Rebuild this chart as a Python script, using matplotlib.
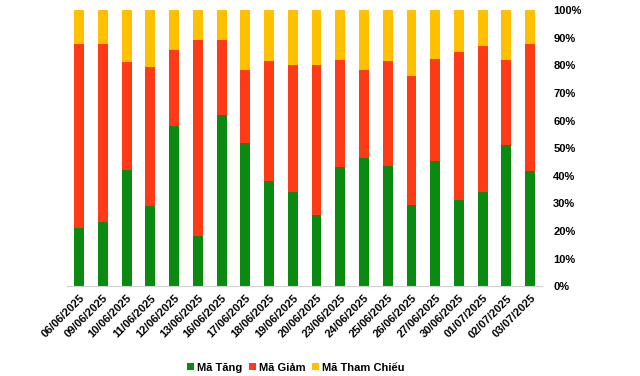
import matplotlib
matplotlib.use("Agg")
import matplotlib.pyplot as plt
from matplotlib.ticker import PercentFormatter

plt.rcParams['font.family'] = ['Liberation Sans', 'DejaVu Sans']

dates = ["06/06/2025", "09/06/2025", "10/06/2025", "11/06/2025", "12/06/2025",
         "13/06/2025", "16/06/2025", "17/06/2025", "18/06/2025", "19/06/2025",
         "20/06/2025", "23/06/2025", "24/06/2025", "25/06/2025", "26/06/2025",
         "27/06/2025", "30/06/2025", "01/07/2025", "02/07/2025", "03/07/2025"]
tang = [21.0, 23.3, 42.0, 29.0, 58.0, 18.1, 62.0, 51.8, 38.0, 34.1,
        25.7, 43.1, 46.4, 43.5, 29.3, 45.3, 31.2, 34.1, 51.1, 41.7]
giam = [66.7, 64.4, 39.2, 50.3, 27.5, 71.0, 27.1, 26.5, 43.5, 46.0,
        54.4, 38.8, 31.9, 38.0, 46.8, 36.9, 53.6, 52.9, 30.8, 46.0]
tham_chieu = [100 - a - b for a, b in zip(tang, giam)]

fig = plt.figure(figsize=(6.4, 3.76), dpi=100)
ax = fig.add_axes([0.105, 0.239, 0.742, 0.734])

x = range(len(dates))
w = 0.42
ax.bar(x, tang, w, color="#0B8A12", label="Mã Tăng")
ax.bar(x, giam, w, bottom=tang, color="#FF3A16", label="Mã Giảm")
ax.bar(x, tham_chieu, w, bottom=[a + b for a, b in zip(tang, giam)],
       color="#FFC000", label="Mã Tham Chiếu")

ax.set_xlim(-0.5, len(dates) - 0.5)
ax.set_ylim(0, 100)
ax.set_yticks(range(0, 101, 10))
ax.yaxis.set_major_formatter(PercentFormatter(decimals=0))
ax.yaxis.tick_right()
ax.tick_params(axis="y", length=0, pad=8, labelsize=8)
for lbl in ax.get_yticklabels():
    lbl.set_fontweight("bold")

ax.set_xticks(list(x))
ax.set_xticklabels(dates, rotation=45, ha="right", rotation_mode="anchor",
                   fontsize=8, fontweight="bold")
ax.tick_params(axis="x", length=0, pad=5)

for s in ["top", "left", "right"]:
    ax.spines[s].set_visible(False)
ax.spines["bottom"].set_color("#D0D0D0")

fig.legend(loc="lower center", bbox_to_anchor=(0.4625, -0.018), ncol=3, frameon=False,
           prop={"size": 8, "weight": "bold"}, handlelength=0.6, handleheight=0.6,
           handletextpad=0.3, columnspacing=0.6)

fig.savefig("out.png", dpi=100)
